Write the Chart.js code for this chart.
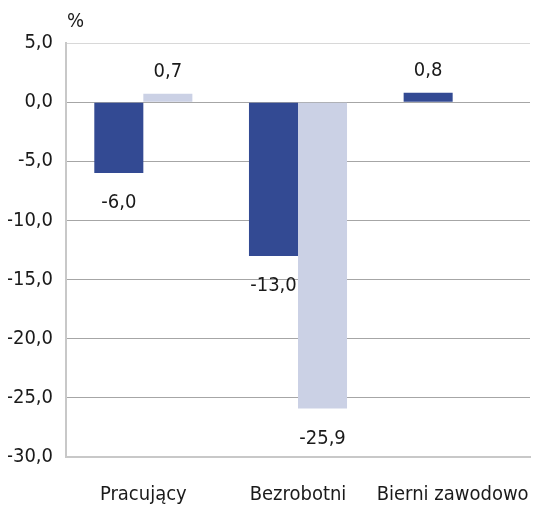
<!DOCTYPE html>
<html>
<head>
<meta charset="utf-8">
<script src="https://cdn.jsdelivr.net/npm/chart.js@4"></script>
<style>
  html, body { margin: 0; padding: 0; background: #fff; }
  #wrap { width: 536px; height: 511px; }
</style>
</head>
<body>
<div id="wrap"><canvas id="chart"></canvas></div>
<script>
const categories = ["Pracujący", "Bezrobotni", "Bierni zawodowo"];
const seriesA = [-6.0, -13.0, 0.8];
const seriesB = [0.7, -25.9, null];
const yMin = -30;
const yMax = 5;
const yStep = 5;
const unitLabel = "%";

const FONT = "'Liberation Sans Narrow', 'DejaVu Sans Condensed', sans-serif";
const fmt = v => v.toFixed(1).replace('.', ',');

// value labels above / below each bar, plus the "%" unit over the axis
const labelsPlugin = {
    id: 'barLabels',
    afterDatasetsDraw(chart) {
        const ctx = chart.ctx;
        ctx.save();
        ctx.font = "20px " + FONT;
        ctx.fillStyle = "#1a1a1a";
        ctx.textAlign = "center";
        ctx.textBaseline = "middle";
        chart.data.datasets.forEach((ds, i) => {
            chart.getDatasetMeta(i).data.forEach((bar, j) => {
                const v = ds.data[j];
                if (v === null || v === undefined) return;
                const y = v >= 0 ? bar.y - 22 : bar.y + 30;
                ctx.fillText(fmt(v), bar.x, y);
            });
        });
        const area = chart.chartArea;
        ctx.textAlign = "left";
        ctx.fillText(unitLabel, area.left + 1, area.top - 21);
        ctx.restore();
    }
};

new Chart("chart", {
    type: "bar",
    data: {
        labels: categories,
        datasets: [{
            data: seriesA,
            backgroundColor: "#334a93"
        }, {
            data: seriesB,
            backgroundColor: "#cbd1e5"
        }]
    },
    options: {
        responsive: true,
        maintainAspectRatio: false,
        animation: false,
        layout: { padding: { top: 43, left: 8, right: 6, bottom: 2 } },
        datasets: { bar: { categoryPercentage: 0.634, barPercentage: 1 } },
        plugins: {
            legend: { display: false },
            tooltip: { enabled: false }
        },
        scales: {
            x: {
                afterFit: scale => {
                    scale.height = 52;
                    scale.paddingLeft = 0;
                    scale.paddingRight = 0;
                },
                grid: { display: false, drawTicks: false },
                border: { color: "#c8c8c8", width: 2 },
                ticks: {
                    padding: 26,
                    maxRotation: 0,
                    minRotation: 0,
                    autoSkip: false,
                    color: "#1a1a1a",
                    font: { family: FONT, size: 20 }
                }
            },
            y: {
                min: yMin,
                max: yMax,
                afterFit: scale => {
                    scale.width = 58;
                    scale.paddingTop = 0;
                    scale.paddingBottom = 0;
                },
                grid: {
                    color: ctx => ctx.tick && ctx.tick.value === yMax ? "#d8d8d8" : "#a6a6a6",
                    drawTicks: false
                },
                border: { color: "#c8c8c8", width: 2 },
                ticks: {
                    stepSize: yStep,
                    padding: 13,
                    color: "#1a1a1a",
                    font: { family: FONT, size: 20 },
                    callback: v => fmt(v)
                }
            }
        }
    },
    plugins: [labelsPlugin]
});
</script>
</body>
</html>
